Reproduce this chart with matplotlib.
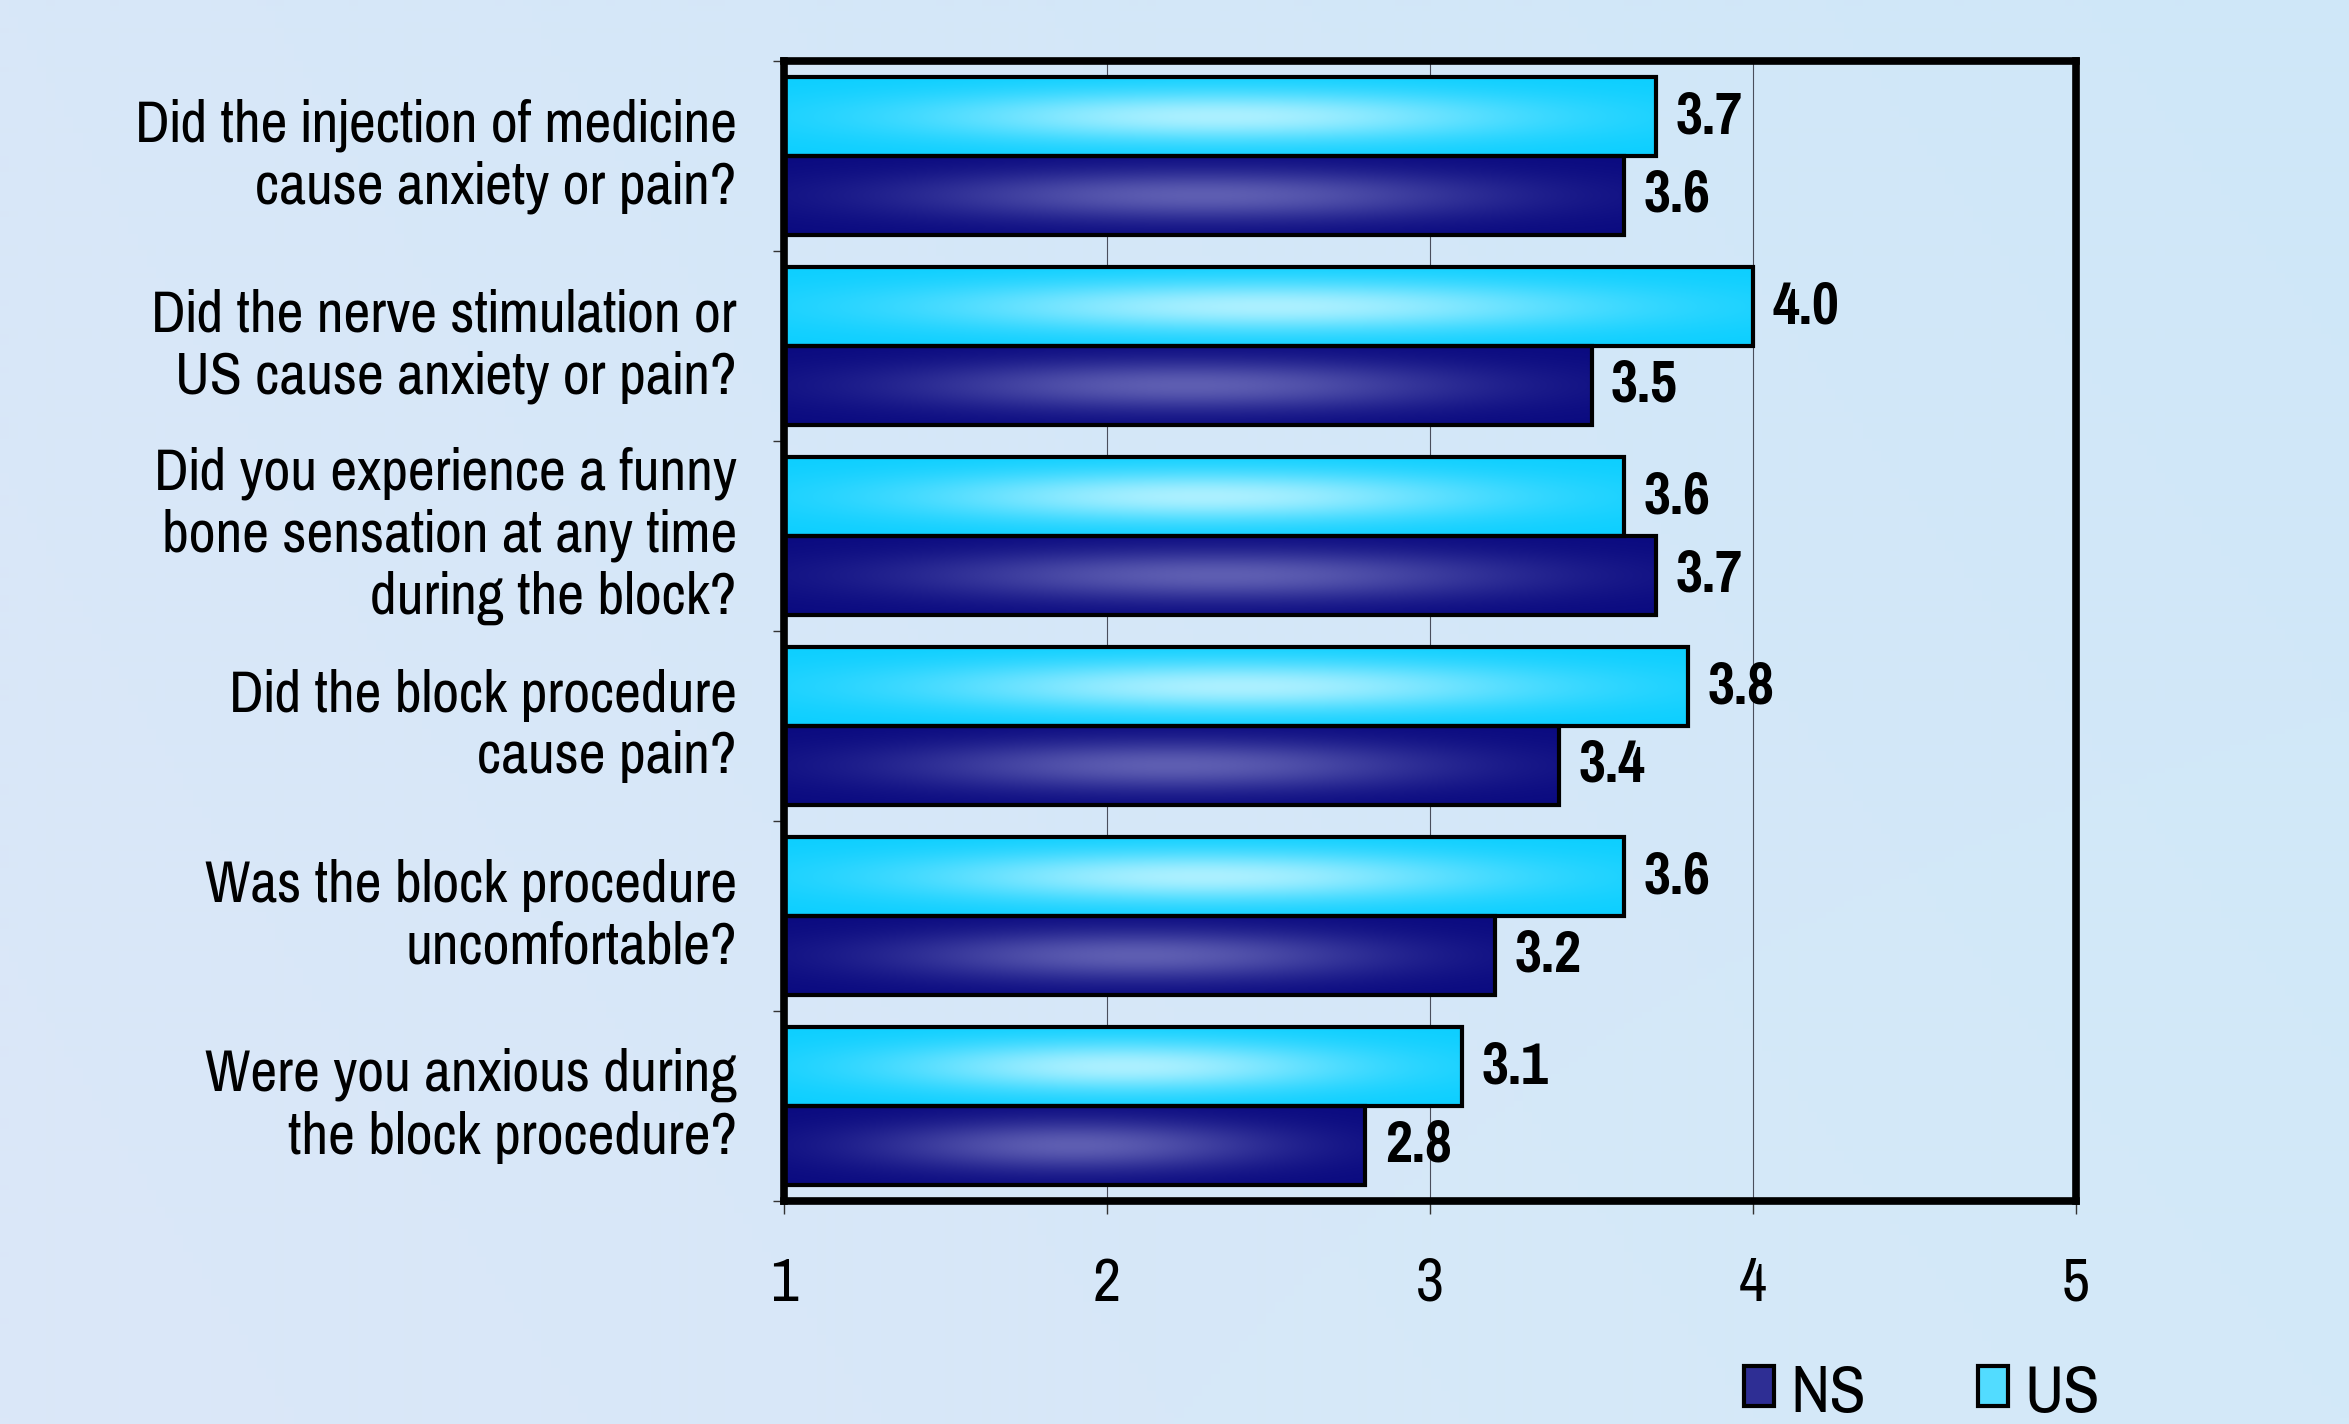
import numpy as np
import matplotlib
matplotlib.use("Agg")
import matplotlib.pyplot as plt
from matplotlib.patches import Patch
from matplotlib.colors import to_rgb
from matplotlib import font_manager

# ---- data -------------------------------------------------------------
questions = [
    "Did the injection of medicine\ncause anxiety or pain?",
    "Did the nerve stimulation or\nUS cause anxiety or pain?",
    "Did you experience a funny\nbone sensation at any time\nduring the block?",
    "Did the block procedure\ncause pain?",
    "Was the block procedure\nuncomfortable?",
    "Were you anxious during\nthe block procedure?",
]
us_scores = [3.7, 4.0, 3.6, 3.8, 3.6, 3.1]
ns_scores = [3.6, 3.5, 3.7, 3.4, 3.2, 2.8]
x_ticks = [1, 2, 3, 4, 5]
series_names = ["NS", "US"]

# ---- fonts: prefer a narrow grotesque --------------------------------
installed = {f.name for f in font_manager.fontManager.ttflist}
NARROW = dict(family="DejaVu Sans", stretch="condensed")
for cand in ["Liberation Sans Narrow", "Arial Narrow", "Pragati Narrow",
             "PT Sans Narrow", "Archivo Narrow", "Roboto Condensed"]:
    if cand in installed:
        NARROW = dict(family=cand)
        break

W, H, DPI = 2349, 1424, 100
fig = plt.figure(figsize=(W / DPI, H / DPI), dpi=DPI)

# ---- soft blue page background ---------------------------------------
bg = fig.add_axes([0, 0, 1, 1], zorder=-10)
bg.axis("off")
tl, tr = np.array(to_rgb("#d8e7f8")), np.array(to_rgb("#cfe7f8"))
bl, br = np.array(to_rgb("#dbe7f8")), np.array(to_rgb("#d3e9f8"))
gu = np.linspace(0, 1, 256)[None, :, None]
gv = np.linspace(0, 1, 256)[:, None, None]
page = (1 - gv) * ((1 - gu) * tl + gu * tr) + gv * ((1 - gu) * bl + gu * br)
bg.imshow(page, extent=[0, 1, 0, 1], aspect="auto", origin="upper")
bg.set_xlim(0, 1)
bg.set_ylim(0, 1)

# ---- main axes --------------------------------------------------------
left, right, top, bottom = 784, 2076, 61, 1201
ax = fig.add_axes([left / W, 1 - bottom / H, (right - left) / W, (bottom - top) / H])
ax.set_facecolor("none")

y = np.arange(len(questions))
h = 0.415
us_vals = np.array(us_scores)
ns_vals = np.array(ns_scores)

bar_kw = dict(left=1, height=h, facecolor="none", edgecolor="black", linewidth=3, zorder=3)
us_bars = ax.barh(y - h / 2, us_vals - 1, **bar_kw)
ns_bars = ax.barh(y + h / 2, ns_vals - 1, **bar_kw)


def shade(rect, edge, centre):
    """Fill a bar with a glow that is brightest in its middle."""
    x0, y0 = rect.get_x(), rect.get_y()
    w, hh = rect.get_width(), rect.get_height()
    u = np.linspace(0, 1, 300)[None, :]
    v = np.linspace(0, 1, 80)[:, None]
    wx = np.exp(-((u - 0.5) / 0.34) ** 2)
    wy = np.exp(-((v - 0.5) / 0.32) ** 2)
    wgt = (wx * wy)[..., None]
    e, c = np.array(to_rgb(edge)), np.array(to_rgb(centre))
    img = e + (c - e) * wgt
    im = ax.imshow(img, extent=[x0, x0 + w, y0 + hh, y0], aspect="auto",
                   interpolation="bilinear", zorder=2)
    im.set_clip_path(rect)


for r in us_bars:
    shade(r, "#0ccfff", "#abf0ff")
for r in ns_bars:
    shade(r, "#0a0a80", "#5e5eb2")

# value labels
label_kw = dict(padding=14, fontsize=46, fontweight="bold", color="black", **NARROW)
ax.bar_label(us_bars, labels=[f"{v:.1f}" for v in us_scores], **label_kw)
ax.bar_label(ns_bars, labels=[f"{v:.1f}" for v in ns_scores], **label_kw)

# axes limits, ticks and grid
ax.set_xlim(x_ticks[0], x_ticks[-1])
ax.set_ylim(len(questions) - 0.5, -0.5)
ax.set_xticks(x_ticks)
ax.set_xticklabels([str(t) for t in x_ticks], fontsize=48, **NARROW)
ax.set_yticks(y)
ax.set_yticklabels(questions, fontsize=46, **NARROW)
for lbl in ax.get_yticklabels():
    lbl.set_linespacing(1.2)
    lbl.set_verticalalignment("center")
ax.set_yticks(np.arange(-0.5, len(questions), 1), minor=True)
ax.tick_params(axis="y", which="major", length=0, pad=34)
ax.tick_params(axis="y", which="minor", length=8, width=1, color="#333333", direction="out")
ax.tick_params(axis="x", which="major", length=9, width=1, color="#333333", direction="out", pad=31)
ax.grid(axis="x", color="#4a4e5c", linewidth=0.8, zorder=1)
ax.set_axisbelow(True)

for sp in ax.spines.values():
    sp.set_linewidth(5.5)
    sp.set_color("black")
    sp.set_zorder(5)

# legend
handles = [
    Patch(facecolor="#2e2e94", edgecolor="black", linewidth=3),
    Patch(facecolor="#52dcff", edgecolor="black", linewidth=3),
]
fig.legend(handles, series_names, loc="center left",
           bbox_to_anchor=(1744 / W, 30 / H), ncol=2, frameon=False,
           prop=dict(size=52, **NARROW), handlelength=0.42, handleheight=0.48,
           handletextpad=0.22, columnspacing=1.55, borderpad=0, borderaxespad=0)

fig.savefig("out.png", dpi=DPI)
